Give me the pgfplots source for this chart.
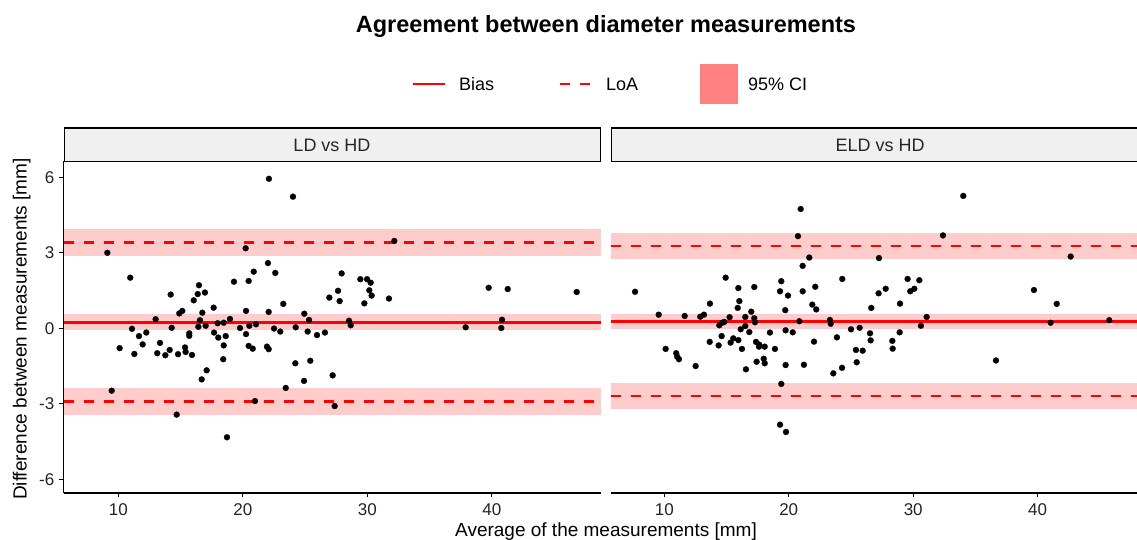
\documentclass[border=0pt]{standalone}
\usepackage{fontspec}
\setmainfont{Liberation Sans}
\usepackage{pgfplots}
\pgfplotsset{compat=1.18}
\usepackage{pgfplotstable}
\definecolor{bandcol}{RGB}{255,204,204}
\definecolor{keycol}{RGB}{255,128,128}
\definecolor{stripcol}{RGB}{240,240,240}
\definecolor{tickcol}{RGB}{35,35,35}

\pgfplotstableread{
x y
9.12 3.00
9.47 -2.48
10.11 -0.79
10.96 2.01
11.10 -0.02
11.29 -1.02
11.66 -0.31
11.96 -0.64
12.25 -0.17
13.00 0.36
13.13 -0.99
13.35 -0.58
13.78 -1.07
14.13 -0.86
14.21 1.34
14.29 0.02
14.69 -3.43
14.80 -1.03
14.90 0.59
15.14 0.69
15.36 -0.76
15.41 -0.94
15.70 -0.20
15.70 -0.30
15.92 -1.06
16.06 1.11
16.38 1.36
16.43 0.06
16.48 1.71
16.56 0.32
16.70 -2.03
16.75 0.62
16.96 1.42
17.02 0.10
17.10 -1.67
17.66 0.82
17.69 -0.17
17.98 0.20
18.03 -0.37
18.43 -1.23
18.47 0.22
18.47 -0.68
18.63 -0.31
18.73 -4.33
18.97 0.37
19.29 1.85
19.78 0.01
20.23 3.18
20.26 0.69
20.26 -0.23
20.47 1.88
20.47 -0.70
20.52 0.10
20.80 -0.81
20.88 2.25
20.98 -2.89
21.06 0.16
21.94 -0.73
22.02 2.59
22.08 -0.83
22.08 0.65
22.10 5.94
22.51 -0.01
22.61 2.20
23.01 -0.13
23.25 0.97
23.45 -2.37
24.03 5.23
24.22 -1.39
24.25 0.04
24.92 -2.09
24.94 0.58
25.21 -0.13
25.32 0.33
25.42 -1.29
25.96 -0.27
26.60 -0.17
26.95 1.22
27.22 -1.87
27.38 -3.09
27.65 1.49
27.78 1.08
27.94 2.18
28.53 0.30
28.67 0.12
29.44 1.95
29.76 0.99
29.98 1.95
30.16 1.51
30.27 1.81
30.35 1.30
31.74 1.18
32.17 3.47
37.90 0.04
39.75 1.61
40.76 0.01
40.82 0.34
41.28 1.56
46.82 1.44
}\ldhd

\pgfplotstableread{
x y
7.65 1.45
9.55 0.54
10.11 -0.82
10.96 -0.99
11.04 -1.13
11.18 -1.23
11.64 0.49
12.52 -1.50
12.89 0.46
13.19 0.54
13.65 -0.54
13.67 0.98
14.37 -0.68
14.42 0.12
14.61 -0.31
14.64 0.22
14.82 0.25
14.93 2.01
15.25 0.44
15.33 -0.57
15.54 -0.40
15.90 0.81
15.95 1.60
15.95 -0.47
16.03 1.08
16.14 -0.04
16.24 -0.82
16.51 0.45
16.51 0.09
16.56 -1.63
16.83 -0.15
16.99 0.66
17.23 0.40
17.23 1.64
17.29 0.24
17.37 -0.54
17.42 -1.33
17.61 -0.73
17.63 -0.65
17.99 -1.21
18.07 -1.39
18.07 -0.73
18.49 -0.17
18.89 -0.82
19.30 1.47
19.30 -3.83
19.40 1.87
19.40 -2.21
19.72 0.72
19.75 -0.08
19.75 -1.46
19.78 -4.12
19.94 1.30
20.32 -0.16
20.74 3.66
20.85 0.28
20.96 4.74
21.12 1.47
21.12 2.48
21.22 -1.45
21.65 2.81
21.89 0.94
22.03 -0.53
22.13 1.65
22.21 0.75
23.31 0.33
23.37 0.18
23.58 -1.79
23.87 -0.36
24.28 -1.57
24.30 1.96
25.00 -0.04
25.40 -0.86
25.46 -1.35
25.70 0.02
25.94 -0.89
26.53 -0.20
26.58 -0.48
26.63 0.81
27.22 1.39
27.25 2.79
27.79 1.57
28.32 -0.50
28.35 -0.81
28.91 -0.16
28.94 0.98
29.55 1.96
29.76 1.47
30.09 1.57
30.49 1.91
30.62 0.10
31.08 0.45
32.39 3.69
34.02 5.26
36.65 -1.28
39.70 1.52
41.04 0.22
41.53 0.97
42.65 2.85
45.75 0.32
}\eldhd

\pgfplotsset{
  panel/.style={
    scale only axis, height=331.8pt,
    ymin=-6.556, ymax=6.627,
    axis x line*=bottom, axis y line*=left,
    axis line style={-, line width=1.6pt, black},
    xtick={10,20,30,40}, ytick={-6,-3,0,3,6},
    tick align=outside, major tick length=4pt,
    tick style={line width=1.2pt, black},
    ticklabel style={font=\fontsize{17}{18}\selectfont, text=tickcol},
    xticklabel style={anchor=north, inner sep=0pt},
    yticklabel style={anchor=east, inner sep=0pt},
    xticklabel shift=6pt, yticklabel shift=5pt,
    /pgf/number format/assume math mode=true,
    clip=true,
  },
  band/.style={draw=none, fill=bandcol, forget plot},
  bias/.style={red, line width=2.6pt, forget plot},
  loa/.style={red, line width=2.6pt, dash pattern=on 10pt off 10pt, forget plot},
  pts/.style={only marks, mark=*, mark size=3pt, black, mark options={line width=0.2pt}},
}

\begin{document}
\begin{tikzpicture}
\useasboundingbox (0pt,0pt) rectangle (1137pt,540pt);

% left panel
\begin{axis}[panel, at={(63.5pt,46.7pt)}, anchor=south west, width=537.5pt,
  xmin=5.6, xmax=48.77, yticklabels={-6,-3,0,3,6}]
\addplot[band] coordinates {(5.6,2.86) (48.77,2.86) (48.77,3.94) (5.6,3.94)} -- cycle;
\addplot[band] coordinates {(5.6,-0.07) (48.77,-0.07) (48.77,0.56) (5.6,0.56)} -- cycle;
\addplot[band] coordinates {(5.6,-3.46) (48.77,-3.46) (48.77,-2.37) (5.6,-2.37)} -- cycle;
\addplot[loa] coordinates {(5.6,3.42) (48.77,3.42)};
\addplot[bias] coordinates {(5.6,0.22) (48.77,0.22)};
\addplot[loa] coordinates {(5.6,-2.90) (48.77,-2.90)};
\addplot[pts] table {\ldhd};
\end{axis}

% right panel
\begin{axis}[panel, at={(611pt,46.7pt)}, anchor=south west, width=526pt,
  xmin=5.72, xmax=47.98, ytick=\empty, y axis line style={draw=none}]
\addplot[band] coordinates {(5.72,2.75) (48.8,2.75) (48.8,3.77) (5.72,3.77)} -- cycle;
\addplot[band] coordinates {(5.72,-0.01) (48.8,-0.01) (48.8,0.57) (5.72,0.57)} -- cycle;
\addplot[band] coordinates {(5.72,-3.21) (48.8,-3.21) (48.8,-2.19) (5.72,-2.19)} -- cycle;
\addplot[loa] coordinates {(5.72,3.27) (48.8,3.27)};
\addplot[bias] coordinates {(5.72,0.28) (48.8,0.28)};
\addplot[loa] coordinates {(5.72,-2.69) (48.8,-2.69)};
\addplot[pts] table {\eldhd};
\end{axis}

% strips
\filldraw[fill=stripcol, draw=black, line width=1.2pt] (64.1pt,378.5pt) rectangle (600.4pt,412pt);
\filldraw[fill=stripcol, draw=black, line width=1.2pt] (611.6pt,378.5pt) rectangle (1148.5pt,412pt);
\node[anchor=base, inner sep=0pt, font=\fontsize{18}{20}\selectfont, text=black!85] at (332pt,388.6pt) {LD vs HD};
\node[anchor=base, inner sep=0pt, font=\fontsize{18}{20}\selectfont, text=black!85] at (880pt,388.6pt) {ELD vs HD};

% axis titles
\node[rotate=90, anchor=base, inner sep=0pt, font=\fontsize{19}{22}\selectfont] at (26.5pt,211pt) {Difference between measurements [mm]};
\node[anchor=base, inner sep=0pt, font=\fontsize{19}{22}\selectfont] at (606pt,3.7pt) {Average of the measurements [mm]};

% title
\node[anchor=base, inner sep=0pt, font=\bfseries\fontsize{23.5}{28}\selectfont] at (606pt,507pt) {Agreement between diameter measurements};

% legend
\draw[red, line width=2.6pt] (413pt,456pt) -- (445pt,456pt);
\node[anchor=base west, inner sep=0pt, font=\fontsize{18}{20}\selectfont] at (459pt,449.6pt) {Bias};
\draw[red, line width=2.6pt, dash pattern=on 10pt off 10pt] (560pt,456pt) -- (590pt,456pt);
\node[anchor=base west, inner sep=0pt, font=\fontsize{18}{20}\selectfont] at (606pt,449.6pt) {LoA};
\fill[keycol] (700pt,436pt) rectangle (738pt,476pt);
\node[anchor=base west, inner sep=0pt, font=\fontsize{18}{20}\selectfont] at (748pt,449.6pt) {95\% CI};
\end{tikzpicture}
\end{document}
